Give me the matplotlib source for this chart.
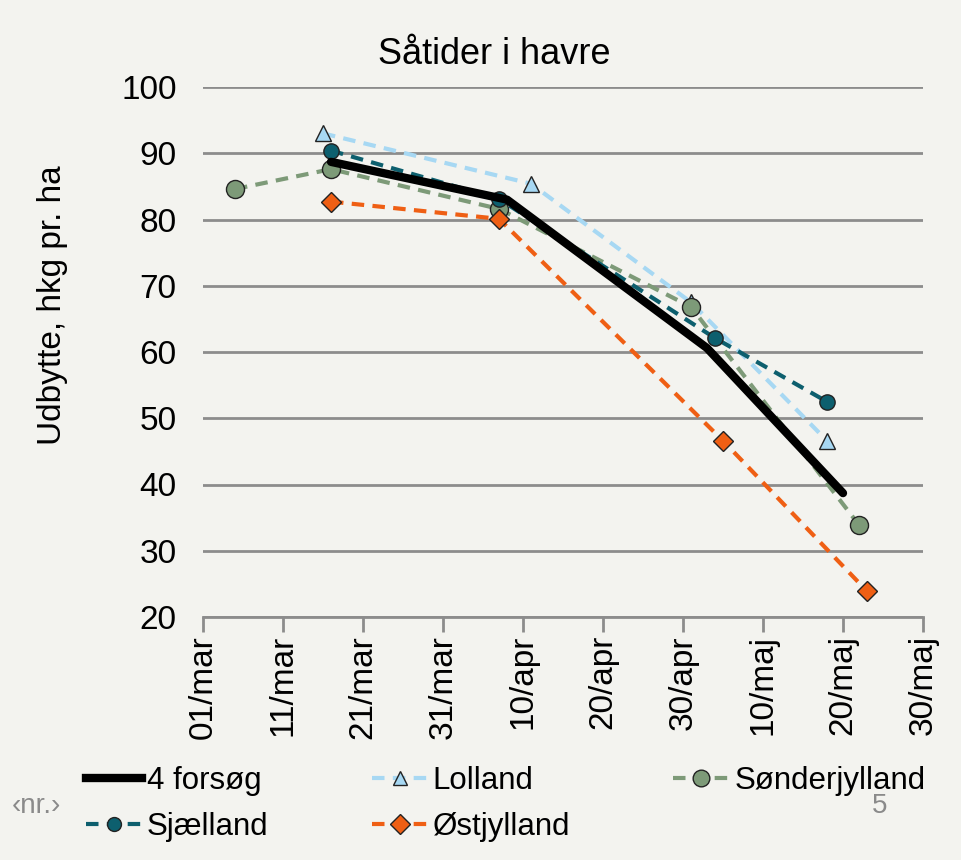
import matplotlib
matplotlib.use("Agg")
import matplotlib.pyplot as plt
from matplotlib.lines import Line2D
import datetime as dt

plt.rcParams['font.family'] = ['Liberation Sans', 'DejaVu Sans']

# data (year is arbitrary, non-leap)
forsog_dates = ["2015-03-17", "2015-04-08", "2015-05-03", "2015-05-20"]
forsog_vals = [88.7, 83.0, 60.6, 38.7]

lolland_dates = ["2015-03-16", "2015-04-11", "2015-05-01", "2015-05-18"]
lolland_vals = [93.0, 85.4, 67.5, 46.6]

sonderjylland_dates = ["2015-03-05", "2015-03-17", "2015-04-07", "2015-05-01", "2015-05-22"]
sonderjylland_vals = [84.6, 87.6, 81.6, 66.8, 33.9]

sjaelland_dates = ["2015-03-17", "2015-04-07", "2015-05-04", "2015-05-18"]
sjaelland_vals = [90.4, 83.1, 62.1, 52.5]

ostjylland_dates = ["2015-03-17", "2015-04-07", "2015-05-05", "2015-05-23"]
ostjylland_vals = [82.7, 80.1, 46.6, 23.9]

tick_dates = ["2015-03-01", "2015-03-11", "2015-03-21", "2015-03-31", "2015-04-10",
              "2015-04-20", "2015-04-30", "2015-05-10", "2015-05-20", "2015-05-30"]
tick_labels = ["01/mar", "11/mar", "21/mar", "31/mar", "10/apr",
               "20/apr", "30/apr", "10/maj", "20/maj", "30/maj"]
y_ticks = [20, 30, 40, 50, 60, 70, 80, 90, 100]


def d(lst):
    return [dt.datetime.strptime(s, "%Y-%m-%d") for s in lst]


bg = '#f3f3ef'
dash = (0, (3, 2))
fig = plt.figure(figsize=(9.61, 8.6), dpi=100, facecolor=bg)
ax = fig.add_axes([203 / 961, 1 - 617 / 860, 720 / 961, 530 / 860])
ax.set_facecolor(bg)

# dashed regional series
ax.plot(d(lolland_dates), lolland_vals, color='#a7d8f3', lw=3, ls=dash,
        marker='^', ms=11, mfc='#a7d8f3', mec='#222222', mew=1, zorder=3)
ax.plot(d(sjaelland_dates), sjaelland_vals, color='#0d5f6e', lw=3, ls=dash,
        marker='o', ms=11, mfc='#0d5f6e', mec='#222222', mew=1, zorder=4)
ax.plot(d(sonderjylland_dates), sonderjylland_vals, color='#7d9a78', lw=3, ls=dash,
        marker='o', ms=13, mfc='#7d9a78', mec='#222222', mew=1, zorder=3)
ax.plot(d(ostjylland_dates), ostjylland_vals, color='#ef5f14', lw=3, ls=dash,
        marker='D', ms=10, mfc='#ef5f14', mec='#222222', mew=1, zorder=4)
ax.plot(d(forsog_dates), forsog_vals, color='black', lw=6, solid_capstyle='round', zorder=5)

ax.set_ylim(20, 100)
ax.set_yticks(y_ticks)
ax.set_xlim(d(["2015-03-01"])[0], d(["2015-05-30"])[0])
ax.set_xticks(d(tick_dates))
ax.set_xticklabels(tick_labels, rotation=90, fontsize=24)
ax.tick_params(axis='y', labelsize=24, length=0, pad=19)
ax.tick_params(axis='x', length=11, width=2, color='#8c8c8c', pad=2)
ax.grid(axis='y', color='#8c8c8c', lw=2)
ax.set_axisbelow(True)
for s in ['left', 'right', 'top']:
    ax.spines[s].set_visible(False)
ax.spines['bottom'].set_color('#8c8c8c')
ax.spines['bottom'].set_linewidth(2)

fig.text(494 / 961, 1 - 54 / 860, "Såtider i havre", fontsize=26, ha='center', va='center')
fig.text(52 / 961, 1 - 305 / 860, "Udbytte, hkg pr. ha", fontsize=24, rotation=90,
         ha='center', va='center')

handles = [
    Line2D([], [], color='black', lw=6),
    Line2D([], [], color='#a7d8f3', lw=3, ls=dash, marker='^', ms=10,
           mfc='#a7d8f3', mec='#222222'),
    Line2D([], [], color='#7d9a78', lw=3, ls=dash, marker='o', ms=12,
           mfc='#7d9a78', mec='#222222'),
    Line2D([], [], color='#0d5f6e', lw=3, ls=dash, marker='o', ms=10,
           mfc='#0d5f6e', mec='#222222'),
    Line2D([], [], color='#ef5f14', lw=3, ls=dash, marker='D', ms=10,
           mfc='#ef5f14', mec='#222222'),
]
labels = ["4 forsøg", "Lolland", "Sønderjylland", "Sjælland", "Østjylland"]
# reorder so ncol=3 fills rows: row1 forsøg, Lolland, Sønderjylland; row2 Sjælland, Østjylland
order = [0, 3, 1, 4, 2]
fig.legend([handles[i] for i in order], [labels[i] for i in order], ncol=3,
           loc='upper left', bbox_to_anchor=(86 / 961, 1 - 766 / 860), frameon=False,
           fontsize=22.5, handlelength=1.8, handletextpad=0.15, columnspacing=3.3,
           labelspacing=0.5, borderaxespad=0, borderpad=0)

fig.text(12 / 961, 1 - 806 / 860, "‹nr.›", fontsize=20, color='#8a8a8a', va='center')
fig.text(872 / 961, 1 - 806 / 860, "5", fontsize=20, color='#8a8a8a', va='center')

fig.savefig("out.png", dpi=100, facecolor=bg)
